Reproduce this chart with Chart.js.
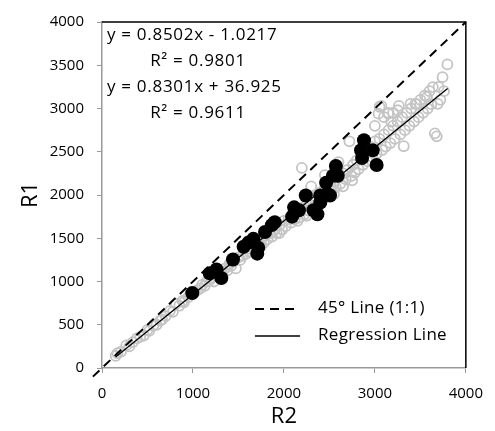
<!DOCTYPE html>
<html>
<head>
<meta charset="utf-8">
<script src="https://cdn.jsdelivr.net/npm/chart.js@4"></script>
<style>
  body { margin: 0; background: #fff; }
  #wrap { width: 495px; height: 431px; }
</style>
</head>
<body>
<div id="wrap"><canvas id="mycanvas"></canvas></div>
<script>
// all stations (open grey circles)
var grayR2 = [150, 170, 210, 267, 300, 340, 384, 420, 459, 500, 520, 565, 600, 640, 660, 700, 747, 780, 811, 850,
    885, 900, 950, 992, 1020, 1050, 1080, 1100, 1130, 1150, 1180, 1200, 1230, 1250, 1270, 1300, 1320, 1350, 1380, 1400,
    1420, 1450, 1472, 1500, 1520, 1550, 1580, 1600, 1620, 1650, 1680, 1700, 1720, 1750, 1780, 1800, 1820, 1850, 1870, 1900,
    1920, 1950, 1980, 2000, 2020, 2050, 2080, 2100, 2120, 2150, 2170, 2197, 2200, 2230, 2250, 2270, 2300, 2320, 2350, 2380,
    2400, 2420, 2450, 2470, 2500, 2520, 2550, 2570, 2600, 2620, 2650, 2680, 2700, 2720, 2740, 2760, 2780, 2800, 2820, 2850,
    2870, 2900, 2920, 2950, 2970, 3000, 3020, 3051, 3072, 3050, 3080, 3100, 3120, 3150, 3170, 3200, 3220, 3264, 3250, 3280,
    3300, 3317, 3330, 3350, 3380, 3392, 3400, 3430, 3445, 3460, 3480, 3500, 3530, 3573, 3550, 3580, 3600, 3637, 3620, 3659,
    3680, 3691, 3700, 3720, 3744, 3760, 3797, 3000, 3100, 3150, 3200, 3250, 3040, 3147, 3179, 2300, 2450, 2600,
    2250, 2350, 2550, 2650, 2750, 2150, 1950, 1750];
var grayR1 = [140, 171, 190, 262, 250, 300, 342, 360, 376, 440, 430, 490, 500, 547, 560, 600, 661, 650, 741, 720,
    775, 760, 820, 855, 880, 900, 920, 960, 950, 1000, 1010, 1040, 1000, 1070, 1060, 1120, 1100, 1150, 1130, 1200,
    1180, 1230, 1151, 1280, 1250, 1300, 1320, 1380, 1340, 1400, 1370, 1450, 1420, 1480, 1450, 1530, 1490, 1560, 1520, 1600,
    1560, 1650, 1600, 1700, 1640, 1720, 1680, 1790, 1720, 1800, 1740, 2313, 1850, 1780, 1900, 1820, 1950, 1860, 1980, 1900,
    2030, 1950, 2080, 2000, 2120, 2050, 2160, 2090, 2200, 2130, 2250, 2180, 2290, 2621, 2220, 2350, 2260, 2400, 2300, 2450,
    2350, 2500, 2390, 2560, 2440, 2620, 2480, 3020, 3031, 2650, 2520, 2700, 2560, 2750, 2600, 2800, 2650, 3031, 2850, 2700,
    2900, 2564, 2750, 2950, 2800, 3054, 3000, 2850, 3054, 3050, 2900, 3100, 2950, 3134, 3150, 3000, 3200, 3248, 3050, 2712,
    2678, 3054, 3250, 3100, 3362, 3200, 3510, 2800, 2900, 2950, 2950, 2980, 2940, 2940, 2849, 2100, 2230, 2380,
    1760, 1840, 2010, 2100, 2170, 1700, 1560, 1410];

// selected stations (filled black circles)
var blackR2 = [992, 1184, 1259, 1312, 1440, 1557, 1610, 1664, 1707, 1717, 1792, 1867, 1899, 2090, 2112, 2165,
    2240, 2325, 2368, 2400, 2400, 2464, 2485, 2507, 2539, 2571, 2592, 2848, 2859, 2880, 2976, 3019];
var blackR1 = [866, 1094, 1140, 1040, 1254, 1402, 1450, 1493, 1322, 1390, 1573, 1652, 1686, 1750, 1857, 1823,
    1994, 1823, 1778, 1914, 1994, 2142, 2005, 1994, 2222, 2336, 2222, 2518, 2427, 2633, 2518, 2347];

var lineR2 = [-100, 4000];
var lineR1 = [-100, 4000];
var regR2 = [150, 3800];
var regR1 = [126, 3230];

var equations = ['y = 0.8502x - 1.0217', 'R\u00b2 = 0.9801', 'y = 0.8301x + 36.925', 'R\u00b2 = 0.9611'];
var legendLabels = ['45\u00b0 Line (1:1)', 'Regression Line'];
var ticks = [0, 1000, 2000, 3000, 4000];
var yTicks = [0, 500, 1000, 1500, 2000, 2500, 3000, 3500, 4000];

function pts(xs, ys) {
    var out = [];
    for (var i in xs) out.push({ x: xs[i], y: ys[i] });
    return out;
}

var FONT = "'Open Sans', sans-serif";

var extras = {
    id: 'extras',
    afterDraw: function (chart) {
        var ctx = chart.ctx;
        var a = chart.chartArea;
        ctx.save();
        // top and right frame
        ctx.strokeStyle = '#000';
        ctx.lineWidth = 1.5;
        ctx.beginPath();
        ctx.moveTo(a.left, a.top);
        ctx.lineTo(a.right, a.top);
        ctx.lineTo(a.right, a.bottom);
        ctx.stroke();

        // equations
        ctx.fillStyle = '#000';
        ctx.font = '17px ' + FONT;
        ctx.letterSpacing = '0.7px';
        ctx.textBaseline = 'middle';
        ctx.textAlign = 'left';
        ctx.fillText(equations[0], 107, 35);
        ctx.fillText(equations[2], 107, 87);
        ctx.textAlign = 'center';
        ctx.fillText(equations[1], 198, 61);
        ctx.fillText(equations[3], 198, 113);

        // legend
        ctx.lineWidth = 2;
        ctx.setLineDash([9, 6]);
        ctx.beginPath();
        ctx.moveTo(255, 309);
        ctx.lineTo(300, 309);
        ctx.stroke();
        ctx.setLineDash([]);
        ctx.lineWidth = 1.5;
        ctx.beginPath();
        ctx.moveTo(255, 336);
        ctx.lineTo(300, 336);
        ctx.stroke();
        ctx.textAlign = 'left';
        ctx.letterSpacing = '0.3px';
        ctx.fillText(legendLabels[0], 318, 308);
        ctx.fillText(legendLabels[1], 318, 335);
        ctx.restore();
    }
};

var ctx = document.getElementById('mycanvas');

function plain(v) { return String(v); }

var chart = new Chart(ctx, {
    type: 'scatter',
    data: {
        datasets: [{
            label: 'Selected',
            data: pts(blackR2, blackR1),
            backgroundColor: '#000',
            borderColor: '#000',
            pointRadius: 7,
            borderWidth: 0
        }, {
            label: '45 line',
            data: pts(lineR2, lineR1),
            showLine: true,
            borderColor: '#000',
            borderWidth: 2,
            borderDash: [9, 6],
            pointRadius: 0,
            clip: false
        }, {
            label: 'Regression',
            data: pts(regR2, regR1),
            showLine: true,
            borderColor: '#000',
            borderWidth: 1.3,
            pointRadius: 0
        }, {
            label: 'All',
            data: pts(grayR2, grayR1),
            backgroundColor: 'rgba(0,0,0,0)',
            borderColor: '#c4c4c4',
            borderWidth: 1.8,
            pointRadius: 5
        }]
    },
    options: {
        responsive: true,
        maintainAspectRatio: false,
        animation: false,
        layout: { padding: { top: 17, right: 18, left: 0, bottom: 0 } },
        plugins: {
            legend: { display: false },
            tooltip: { enabled: false }
        },
        scales: {
            x: {
                type: 'linear',
                min: 0,
                max: 4000,
                afterBuildTicks: function (s) { s.ticks = ticks.map(function (v) { return { value: v }; }); },
                afterFit: function (s) { s.height = 63; },
                grid: { drawOnChartArea: false, color: '#999', tickLength: 5 },
                border: { color: '#999', width: 1.5 },
                ticks: { color: '#000', font: { family: FONT, size: 15 }, padding: 12, maxRotation: 0, callback: plain },
                title: { display: true, text: 'R2', color: '#000', font: { family: FONT, size: 22 }, padding: { top: 0, bottom: 1 } }
            },
            y: {
                type: 'linear',
                min: 0,
                max: 4000,
                afterBuildTicks: function (s) { s.ticks = yTicks.map(function (v) { return { value: v }; }); },
                afterFit: function (s) { s.width = 102; },
                grid: { drawOnChartArea: false, color: '#999', tickLength: 5 },
                border: { color: '#999', width: 1.5 },
                ticks: { color: '#000', font: { family: FONT, size: 15 }, padding: 13, callback: plain },
                title: { display: true, text: 'R1', color: '#000', font: { family: FONT, size: 22 }, padding: { top: 18, bottom: 0 } }
            }
        }
    },
    plugins: [extras]
});
</script>
</body>
</html>
